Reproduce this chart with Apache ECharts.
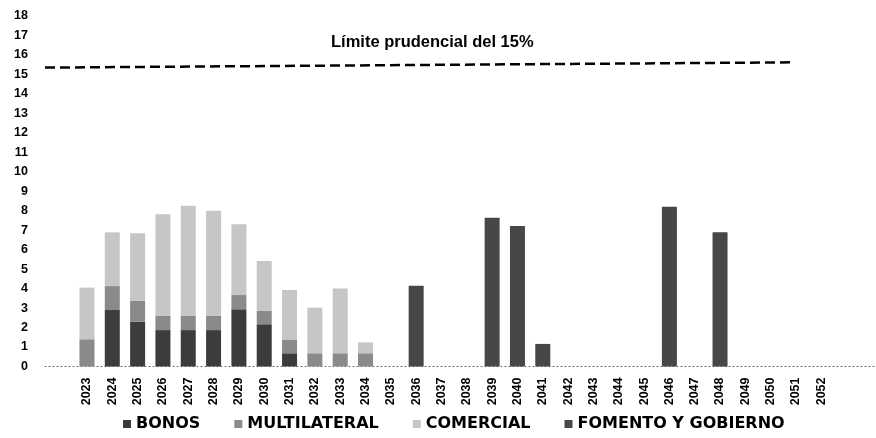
<!DOCTYPE html>
<html><head><meta charset="utf-8">
<script src="https://cdn.jsdelivr.net/npm/echarts@6/dist/echarts.min.js"></script>
<style>html,body{margin:0;padding:0;background:#fff}#c{width:876px;height:438px}</style>
</head><body><div id="c"></div>
<script>
const years = ['2023','2024','2025','2026','2027','2028','2029','2030','2031','2032','2033','2034','2035','2036','2037','2038','2039','2040','2041','2042','2043','2044','2045','2046','2047','2048','2049','2050','2051','2052'];
const bonos =       [0,   2.9, 2.3, 1.87,1.87,1.87,2.94,2.17,0.68,0,   0,   0,   0,0,   0,0,0,   0,   0,   0,0,0,0,0,   0,0,   0,0,0,0];
const multilateral =[1.4, 1.23,1.08,0.74,0.74,0.74,0.73,0.7, 0.68,0.68,0.68,0.68,0,0,   0,0,0,   0,   0,   0,0,0,0,0,   0,0,   0,0,0,0];
const comercial =   [2.65,2.76,3.46,5.21,5.65,5.39,3.63,2.55,2.57,2.34,3.33,0.56,0,0,   0,0,0,   0,   0,   0,0,0,0,0,   0,0,   0,0,0,0];
const fomento =     [0,   0,   0,   0,   0,   0,   0,   0,   0,   0,   0,   0,   0,4.15,0,0,7.64,7.21,1.16,0,0,0,0,8.21,0,6.89,0,0,0,0];
const limitX = [0, 90];
const limitY = [15.35, 15.62];
const seriesNames = ['BONOS','MULTILATERAL','COMERCIAL','FOMENTO Y GOBIERNO'];
const colors = ['#3c3c3c','#8a8a8a','#c6c6c6','#474747'];
const titleText = 'Límite prudencial del 15%';

const chart = echarts.init(document.getElementById('c'));
const lab = {fontFamily:'Liberation Sans', fontWeight:'bold', fontSize:12.5, color:'#000'};
const barData = [bonos, multilateral, comercial, fomento];
const series = barData.map((d,i)=>({
  name: seriesNames[i], type:'bar', stack:'s', data:d, barWidth:15,
  xAxisIndex:0, yAxisIndex:0, itemStyle:{color:colors[i]}
}));
series.push({
  name:'limit', type:'line', xAxisIndex:1, yAxisIndex:1,
  data: limitX.map((x,i)=>[x, limitY[i]]), symbol:'none',
  lineStyle:{color:'#000', width:2.5, type:[10,5]}
});
chart.setOption({
  animation:false,
  title:{text:titleText, left:326, top:29, textStyle:{fontFamily:'Liberation Sans', fontWeight:'bold', fontSize:16.5, color:'#000'}},
  legend:{data:seriesNames, bottom:1, left:118, itemWidth:8, itemHeight:8, itemGap:34, icon:'rect',
    textStyle:{fontFamily:'DejaVu Sans', fontWeight:'bold', fontSize:16, color:'#000'}},
  grid:[
    {left:74.3, right:42, top:16, bottom:71.5},
    {left:45, right:0, top:16, bottom:71.5}
  ],
  xAxis:[
    {type:'category', gridIndex:0, data:years, axisLine:{show:false}, axisTick:{show:false},
      axisLabel:Object.assign({rotate:90, margin:11, interval:0}, lab)},
    {type:'value', gridIndex:1, min:0, max:100, axisLine:{show:true, onZero:false, lineStyle:{color:'#666', type:[1,3], width:1}},
      axisTick:{show:false}, axisLabel:{show:false}, splitLine:{show:false}}
  ],
  yAxis:[
    {type:'value', gridIndex:0, min:0, max:18, interval:1, show:false, splitLine:{show:false}},
    {type:'value', gridIndex:1, min:0, max:18, interval:1, axisLine:{show:false}, axisTick:{show:false},
      splitLine:{show:false}, axisLabel:Object.assign({margin:17}, lab)}
  ],
  series: series
});
</script></body></html>
